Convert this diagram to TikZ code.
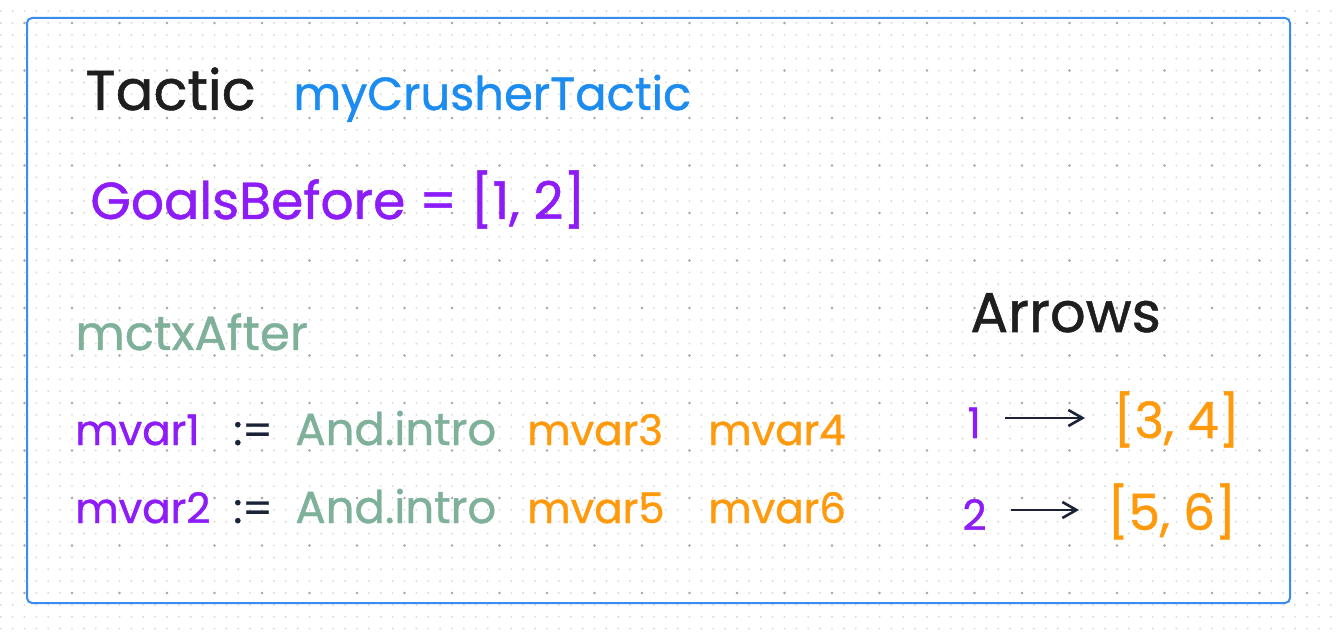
\documentclass[tikz,border=0pt]{standalone}
\usepackage{fontspec}
\setmainfont{Poppins}[FakeBold=0.9]
\usepackage{tikz}
\usetikzlibrary{arrows.meta,positioning}
\definecolor{InkBlack}{HTML}{1E1E1E}
\definecolor{TacticBlue}{HTML}{1C8CF0}
\definecolor{GoalViolet}{HTML}{8D1CF8}
\definecolor{CtxGreen}{HTML}{7FB09A}
\definecolor{MvarOrange}{HTML}{FF9A0C}
\definecolor{ArrowNavy}{HTML}{1A2238}
\definecolor{FrameBlue}{HTML}{3A8DF0}
\definecolor{DotLight}{HTML}{DADADA}
\definecolor{DotDark}{HTML}{A8A8A8}
\newcommand{\fsz}[1]{\fontsize{#1}{#1}\selectfont}

\begin{document}
\begin{tikzpicture}[x=0.5pt,y=-0.5pt,>={Straight Barb[length=7pt,width=8pt]}]
  \tikzset{
    word/.style={anchor=base west,inner sep=0pt},
    codeline/.style={word,font=\fsz{21pt}},
    mapnum/.style={word,font=\fsz{21pt},text=GoalViolet,text height=20pt,text depth=0pt},
    mapgoals/.style={word,font=\fsz{25pt},text=MvarOrange,text height=20pt,text depth=0pt},
    maparrow/.style={ArrowNavy,line width=1.3pt,->,shorten <=12pt,shorten >=14pt},
    dotrow/.style={line cap=round,line width=1.1pt}
  }
  \useasboundingbox (0,0) rectangle (1339,636);
  \fill[white] (0,0) rectangle (1339,636);
  % dotted canvas grid
  \foreach \j in {0,...,54}
    \draw[dotrow,DotLight,dash pattern=on 0pt off 5.9375pt] (0.75,-0.75+11.875*\j) -- (1339,-0.75+11.875*\j);
  \foreach \j in {0,...,13}
    \draw[dotrow,DotDark,line width=1.4pt,dash pattern=on 0pt off 23.75pt] (24.5,23+47.5*\j) -- (1339,23+47.5*\j);
  % frame
  \draw[FrameBlue,line width=1pt,rounded corners=2.5pt] (27,18) rectangle (1290,603);

  \node[word,font=\fsz{28pt},text=InkBlack] (tactic) at (85,110) {Tactic};
  \node[word,font=\fsz{23.2pt},text=TacticBlue] (tname) at (293,110) {myCrusherTactic};
  \node[word,font=\fsz{26pt},text=GoalViolet] (goals) at (90,219) {GoalsBefore = [1, 2]};
  \node[word,font=\fsz{24pt},text=CtxGreen] (mctx) at (75,350) {mctxAfter};
  \node[word,font=\fsz{28pt},text=InkBlack] (arrows) at (970,332) {Arrows};

  % assignments
  \node[codeline,text=GoalViolet] (mv1) at (75,445) {mvar1};
  \node[codeline,text=ArrowNavy] (as1) at (233,445) {:=};
  \node[codeline,text=CtxGreen,font=\fsz{22.5pt}] (and1) at (295,445) {And.intro};
  \node[codeline,text=MvarOrange] (mv3) at (527,445) {mvar3};
  \node[codeline,text=MvarOrange] (mv4) at (708,445) {mvar4};
  \node[codeline,text=GoalViolet] (mv2) at (75,523) {mvar2};
  \node[codeline,text=ArrowNavy] (as2) at (233,523) {:=};
  \node[codeline,text=CtxGreen,font=\fsz{22.5pt}] (and2) at (295,523) {And.intro};
  \node[codeline,text=MvarOrange] (mv5) at (527,523) {mvar5};
  \node[codeline,text=MvarOrange] (mv6) at (708,523) {mvar6};

  % goal arrows
  \node[mapnum] (g1) at (967,438) {1};
  \node[mapgoals] (t1) at (1113,438) {[3, 4]};
  \node[mapnum] (g2) at (962,530) {2};
  \node[mapgoals] (t2) at (1107,530) {[5, 6]};
  \draw[maparrow] (g1) -- (t1);
  \draw[maparrow] (g2) -- (t2);
\end{tikzpicture}
\end{document}
